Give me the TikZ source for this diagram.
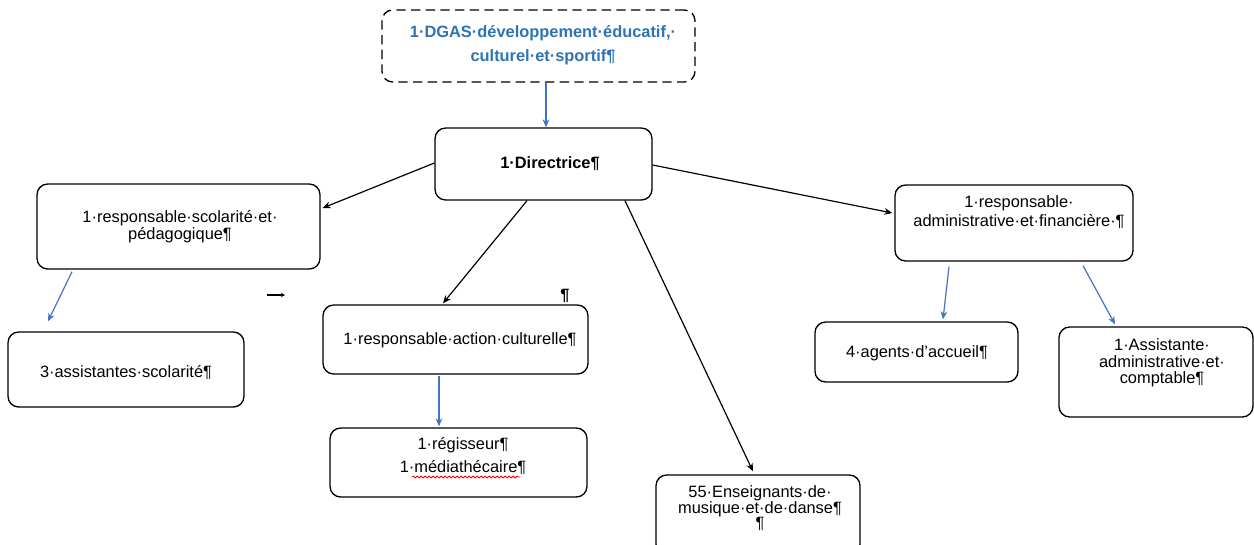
\documentclass[tikz,border=0pt]{standalone}
\usepackage{fontspec}
\setmainfont{Liberation Sans}
\usetikzlibrary{arrows.meta,calc,decorations.pathmorphing}
\definecolor{txtblue}{RGB}{46,116,181}
\definecolor{arrblue}{RGB}{68,114,196}
\begin{document}
\begin{tikzpicture}[x=0.75pt,y=-0.75pt,
  box/.style={draw,rounded corners=8pt,line width=1pt,inner sep=0pt},
  lbl/.style={align=center,inner sep=0pt},
  fs/.style={font=\fontsize{12.3}{#1}\selectfont},
  bfs/.style={font=\fontsize{12.3}{#1}\selectfont\bfseries},
  blk/.style={draw=black,line width=0.9pt,-{Stealth[length=6pt,width=5pt]}},
  blu/.style={draw=arrblue,line width=0.9pt,-{Stealth[length=6pt,width=5pt]}}]
\path[fill=white,use as bounding box] (0,0) rectangle (1254,544);

% boxes
\node[box,dash pattern=on 7pt off 4pt,minimum width=234.75pt,minimum height=54pt] (dgas) at (538.5,46) {};
\node[box,minimum width=162.75pt,minimum height=54pt] (dir) at (543.5,164) {};
\node[box,minimum width=212.25pt,minimum height=63.75pt] (scol) at (178.5,226.5) {};
\node[box,minimum width=177pt,minimum height=56.25pt] (assist) at (126,369.5) {};
\node[box,minimum width=198.75pt,minimum height=51.75pt] (cult) at (455.5,339.5) {};
\node[box,minimum width=192.75pt,minimum height=51.75pt] (regis) at (458.5,462.5) {};
\node[box,minimum width=153pt,minimum height=60pt] (ens) at (758,515) {};
\node[box,minimum width=178.5pt,minimum height=57pt] (adm) at (1014,223) {};
\node[box,minimum width=152.25pt,minimum height=45pt] (agents) at (916.5,352) {};
\node[box,minimum width=145.5pt,minimum height=67.5pt] (asst2) at (1156,372) {};

% texts
\node[lbl,bfs=18pt,text=txtblue] (dgasT) at (543,45) {1·DGAS·développement·éducatif,·\\culturel·et·sportif¶};
\node[lbl,bfs=14pt] (dirT) at (550,164) {1·Directrice¶};
\node[lbl,fs=12.75pt] (scolT) at (180,227) {1·responsable·scolarité·et·\\pédagogique¶};
\node[lbl,fs=14pt] (assistT) at (126,373) {3·assistantes·scolarité¶};
\node[lbl,fs=14pt] (cultT) at (460,340) {1·responsable·action·culturelle¶};
\node[lbl,fs=17pt] (regisT) at (463,456) {1·régisseur¶\\1·médiathécaire¶};
\node[lbl,fs=11.25pt] (ensT) at (760,508) {55·Enseignants·de·\\musique·et·de·danse¶\\¶};
\node[lbl,fs=14.25pt] (admT) at (1019,212) {1·responsable·\\administrative·et·financière·¶};
\node[lbl,fs=14pt] (agentsT) at (917,353) {4·agents·d’accueil¶};
\node[lbl,fs=12.4pt] (asst2T) at (1162,363) {1·Assistante·\\administrative·et·\\comptable¶};
\node[lbl,bfs=14pt] (pil) at (565,296) {¶};

% spell-check underline
\draw[red,line width=0.6pt,decorate,decoration={snake,amplitude=0.7pt,segment length=3pt}] (412,477) -- (520,477);

% stray tab mark arrow
\coordinate (tabA) at (267,295);
\coordinate (tabB) at (285,295);
\draw[draw=black,line width=0.8pt,-{Stealth[length=3pt,width=3pt]}] (tabA) -- (tabB);

% connectors
\draw[blu] ($(dgas.south)+(7.5,0)$) -- ($(dir.north)+(2.5,0)$);
\draw[blk] ($(dir.west)+(0,-1)$) -- ($(scol.east)+(2,-18.5)$);
\draw[blk] ($(dir.south)+(-16.5,0)$) -- ($(cult.north)+(-12.5,-1)$);
\draw[blk] ($(dir.south)+(81.5,0)$) -- ($(ens.north)+(-5,-3)$);
\draw[blk] ($(dir.east)+(0,1)$) -- ($(adm.west)+(-2,-10)$);
\draw[blu] ($(scol.south)+(-106.5,2)$) -- ($(assist.north)+(-78,-10)$);
\draw[blu] ($(cult.south)+(-16.5,1)$) -- ($(regis.north)+(-19.5,-1)$);
\draw[blu] ($(adm.south)+(-65,5)$) -- ($(agents.north)+(26.5,-2)$);
\draw[blu] ($(adm.south)+(69,4)$) -- ($(asst2.north)+(-41,-2)$);
\end{tikzpicture}
\end{document}
